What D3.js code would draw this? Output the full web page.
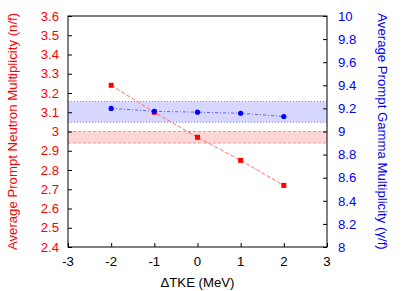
<!DOCTYPE html>
<html>
<head>
<meta charset="utf-8">
<script src="https://cdn.jsdelivr.net/npm/d3@7"></script>
<style>
  body { margin: 0; background: #fff; }
  text { font-family: "Liberation Sans", Arial, sans-serif; }
</style>
</head>
<body>
<div id="chart"></div>
<script>
// Data
var dTKE = [-2, -1, 0, 1, 2],
  neutron = [3.24, 3.10, 2.97, 2.85, 2.72],
  gamma = [9.20, 9.175, 9.167, 9.158, 9.13];

// experimental bands
var neutronBand = [2.94, 3.00],
  gammaBand = [9.08, 9.26];

var xTicks = [-3, -2, -1, 0, 1, 2, 3];

// Placement
var W = 415, H = 291,
  mLeft = 68, mRight = 88, mTop = 16, mBottom = 44,
  fs = 13.2;

var x = d3.scaleLinear().domain([-3, 3]).range([mLeft, W - mRight]);
var yL = d3.scaleLinear().domain([2.4, 3.6]).range([H - mBottom, mTop]);
var yR = d3.scaleLinear().domain([8, 10]).range([H - mBottom, mTop]);

var svg = d3.select("#chart").append("svg")
  .attr("width", W)
  .attr("height", H);

// bands
svg.append("rect")
  .attr("x", x(-3)).attr("width", x(3) - x(-3))
  .attr("y", yL(neutronBand[1]))
  .attr("height", yL(neutronBand[0]) - yL(neutronBand[1]))
  .attr("fill", "#ffd6d6");
neutronBand.forEach(function(v) {
  svg.append("line")
    .attr("x1", x(-3)).attr("x2", x(3))
    .attr("y1", yL(v)).attr("y2", yL(v))
    .attr("stroke", "#ff9090").attr("stroke-width", 1)
    .attr("stroke-dasharray", "3,2");
});

svg.append("rect")
  .attr("x", x(-3)).attr("width", x(3) - x(-3))
  .attr("y", yR(gammaBand[1]))
  .attr("height", yR(gammaBand[0]) - yR(gammaBand[1]))
  .attr("fill", "#d6d6ff");
gammaBand.forEach(function(v) {
  svg.append("line")
    .attr("x1", x(-3)).attr("x2", x(3))
    .attr("y1", yR(v)).attr("y2", yR(v))
    .attr("stroke", "#8080ff").attr("stroke-width", 1)
    .attr("stroke-dasharray", "1,2");
});

// axes (ticks inward)
var axL = d3.axisRight(yL).tickValues(d3.range(2.4, 3.61, 0.1)).tickSize(4).tickFormat("");
var axR = d3.axisLeft(yR).tickValues(d3.range(8, 10.01, 0.2)).tickSize(4).tickFormat("");
var axB = d3.axisTop(x).tickValues(xTicks).tickSize(4).tickFormat("");

svg.append("g").attr("transform", "translate(" + x(-3) + ",0)").call(axL)
  .call(function(g) { g.select(".domain").remove(); });
svg.append("g").attr("transform", "translate(" + x(3) + ",0)").call(axR)
  .call(function(g) { g.select(".domain").remove(); });
svg.append("g").attr("transform", "translate(0," + yL(2.4) + ")").call(axB)
  .call(function(g) { g.select(".domain").remove(); });
svg.selectAll(".tick line").attr("stroke", "#000");

// frame
svg.append("rect")
  .attr("x", x(-3)).attr("y", yL(3.6))
  .attr("width", x(3) - x(-3)).attr("height", yL(2.4) - yL(3.6))
  .attr("fill", "none").attr("stroke", "#000").attr("stroke-width", 1);

// tick labels
svg.append("g").selectAll("text")
  .data(d3.range(2.4, 3.61, 0.1))
  .enter().append("text")
  .attr("x", x(-3) - 9)
  .attr("y", function(d) { return yL(d) + 4.7; })
  .attr("text-anchor", "end")
  .attr("font-size", fs)
  .attr("fill", "#ff0000")
  .text(function(d) { return d3.format("")(+d.toFixed(1)); });

svg.append("g").selectAll("text")
  .data(d3.range(8, 10.01, 0.2))
  .enter().append("text")
  .attr("x", x(3) + 11)
  .attr("y", function(d) { return yR(d) + 4.7; })
  .attr("font-size", fs)
  .attr("fill", "#0000ff")
  .text(function(d) { return d3.format("")(+d.toFixed(1)); });

svg.append("g").selectAll("text")
  .data(xTicks)
  .enter().append("text")
  .attr("x", function(d) { return x(d); })
  .attr("y", yL(2.4) + 19)
  .attr("text-anchor", "middle")
  .attr("font-size", fs)
  .attr("fill", "#000")
  .text(function(d) { return d; });

// axis titles
svg.append("text")
  .attr("transform", "translate(17," + ((mTop + H - mBottom) / 2) + ")rotate(-90)")
  .attr("text-anchor", "middle")
  .attr("font-size", fs)
  .attr("fill", "#ff0000")
  .text("Average Prompt Neutron Multiplicity (n/f)");

svg.append("text")
  .attr("transform", "translate(378," + ((mTop + H - mBottom) / 2) + ")rotate(90)")
  .attr("text-anchor", "middle")
  .attr("font-size", fs)
  .attr("fill", "#0000ff")
  .text("Average Prompt Gamma Multiplicity (\u03b3/f)");

svg.append("text")
  .attr("x", x(0)).attr("y", H - 4)
  .attr("text-anchor", "middle")
  .attr("font-size", fs)
  .attr("fill", "#000")
  .text("\u0394TKE (MeV)");

// series
var nLine = d3.line().x(function(d, i) { return x(dTKE[i]); }).y(function(d) { return yL(d); });
var gLine = d3.line().x(function(d, i) { return x(dTKE[i]); }).y(function(d) { return yR(d); });

svg.append("path").datum(neutron)
  .attr("d", nLine)
  .attr("fill", "none").attr("stroke", "#ff7070").attr("stroke-width", 1)
  .attr("stroke-dasharray", "4,2");

svg.append("path").datum(gamma)
  .attr("d", gLine)
  .attr("fill", "none").attr("stroke", "#6060ff").attr("stroke-width", 1)
  .attr("stroke-dasharray", "3,2,1,2");

svg.append("g").selectAll("rect")
  .data(neutron)
  .enter().append("rect")
  .attr("x", function(d, i) { return x(dTKE[i]) - 2.5; })
  .attr("y", function(d) { return yL(d) - 2.5; })
  .attr("width", 5).attr("height", 5)
  .attr("fill", "#ff0000");

svg.append("g").selectAll("circle")
  .data(gamma)
  .enter().append("circle")
  .attr("cx", function(d, i) { return x(dTKE[i]); })
  .attr("cy", function(d) { return yR(d); })
  .attr("r", 2.6)
  .attr("fill", "#0000ff");
</script>
</body>
</html>
